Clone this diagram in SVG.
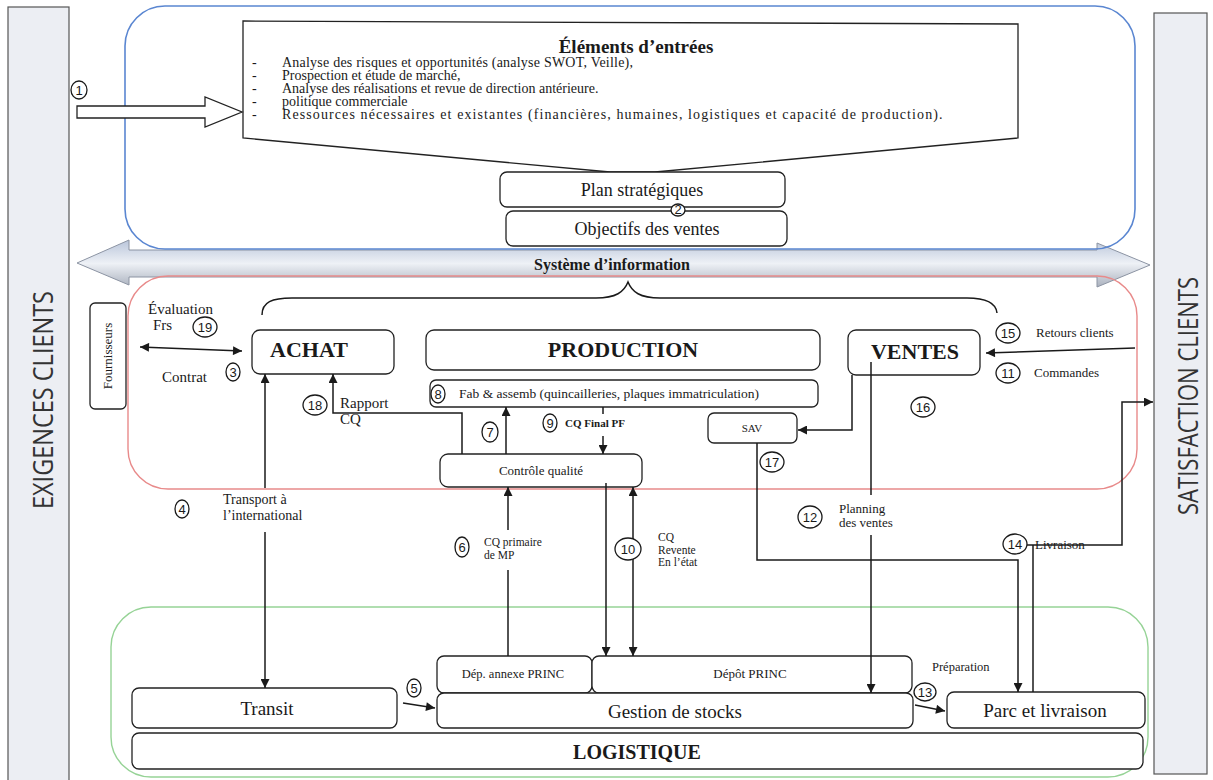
<svg xmlns="http://www.w3.org/2000/svg" width="1213" height="780" viewBox="0 0 1213 780">
<style>
.serif{font-family:"Liberation Serif","Times New Roman",serif;fill:#1a1a1a}
.sans{font-family:"Liberation Sans",Arial,sans-serif;fill:#1a1a1a}
.side{font-family:"Open Sans","Liberation Sans",sans-serif;fill:#333}
.box{fill:#fff;stroke:#222;stroke-width:1.3}
.panel{fill:#eceef3;stroke:#555;stroke-width:1.2}
.ln{fill:none;stroke:#1a1a1a;stroke-width:1.5}
.num ellipse{fill:#fff;stroke:#1a1a1a;stroke-width:1.3}
.num text{font-family:"Liberation Sans",Arial,sans-serif;font-size:13px;text-anchor:middle;fill:#1a1a1a}
.b{font-weight:bold}
.mid{text-anchor:middle}
</style>
<defs>
<marker id="ah" viewBox="0 0 10 10" refX="10" refY="5" markerWidth="10" markerHeight="9" markerUnits="userSpaceOnUse" orient="auto-start-reverse"><path d="M0,0 L10,5 L0,10 z" fill="#1a1a1a"/></marker>
<linearGradient id="sig" x1="0" y1="0" x2="0" y2="1">
<stop offset="0" stop-color="#b9c5da"/>
<stop offset="0.5" stop-color="#eef1f6"/>
<stop offset="1" stop-color="#aab1be"/>
</linearGradient>
</defs>
<rect width="1213" height="780" fill="#fff"/>

<g id="exigences-clients">
<rect class="panel" x="8" y="7" width="61" height="780"/>
<text class="side" transform="translate(53,400) rotate(-90)" font-size="28" text-anchor="middle" textLength="218" lengthAdjust="spacingAndGlyphs">EXIGENCES CLIENTS</text>
</g>
<g id="satisfaction-clients">
<rect class="panel" x="1154" y="13" width="53" height="761"/>
<text class="side" transform="translate(1198,396) rotate(-90)" font-size="28" text-anchor="middle" textLength="238" lengthAdjust="spacingAndGlyphs">SATISFACTION CLIENTS</text>
</g>

<g id="systeme-information">
<polygon points="77,263 129,240 129,250 1097,250 1097,243 1150,265 1097,287 1097,277 129,277 129,285" fill="url(#sig)" stroke="#8c94a3" stroke-width="1"/>
<text class="serif b mid" x="612" y="270" font-size="16">Système d’information</text>
</g>

<g id="zone-strategie">
<rect x="125" y="6" width="1010" height="243" rx="40" fill="none" stroke="#5a86d1" stroke-width="1.6"/>
</g>
<g id="zone-processus">
<rect x="128" y="276" width="1009" height="213" rx="40" fill="none" stroke="#e88a8a" stroke-width="1.4"/>
</g>
<g id="zone-logistique">
<rect x="111" y="607" width="1037" height="170" rx="40" fill="none" stroke="#96d396" stroke-width="1.4"/>
</g>

<g id="elements-entrees">
<polygon class="box" points="243,21 1018,24 1018,138 655,172 610,172 243,138"/>
<text class="serif b mid" x="636" y="53" font-size="19">Éléments d’entrées</text>
<text class="serif" font-size="14"><tspan x="252" y="67">-</tspan><tspan x="282" y="67" textLength="351">Analyse des risques et opportunités (analyse SWOT, Veille),</tspan><tspan x="252" y="80">-</tspan><tspan x="282" y="80">Prospection et étude de marché,</tspan><tspan x="252" y="93">-</tspan><tspan x="282" y="93">Analyse des réalisations et revue de direction antérieure.</tspan><tspan x="252" y="106">-</tspan><tspan x="282" y="106">politique commerciale</tspan><tspan x="252" y="119">-</tspan><tspan x="282" y="119" letter-spacing="1.1">Ressources nécessaires et existantes (financières, humaines, logistiques et capacité de production).</tspan></text>
</g>

<g id="plan-strategiques">
<rect class="box" x="500" y="172" width="285" height="35" rx="7"/>
<text class="serif mid" x="642" y="196" font-size="18">Plan stratégiques</text>
</g>
<g id="objectifs-ventes">
<rect class="box" x="506" y="211" width="281" height="35" rx="7"/>
<text class="serif mid" x="647" y="235" font-size="18">Objectifs des ventes</text>
</g>

<g id="fournisseurs">
<rect class="box" x="90" y="303" width="36" height="106" rx="5"/>
<text class="serif mid" transform="translate(112,356) rotate(-90)" font-size="13">Fournisseurs</text>
</g>
<g id="achat">
<rect class="box" x="252" y="330" width="142" height="44" rx="8"/>
<text class="serif b" x="270" y="357" font-size="22">ACHAT</text>
</g>
<g id="production">
<rect class="box" x="426" y="330" width="394" height="40" rx="8"/>
<text class="serif b mid" x="623" y="357" font-size="22">PRODUCTION</text>
</g>
<g id="ventes">
<rect class="box" x="848" y="330" width="132" height="45" rx="8"/>
<text class="serif b mid" x="915" y="359" font-size="22">VENTES</text>
</g>
<g id="fab-assemb">
<rect class="box" x="430" y="380" width="388" height="27" rx="6"/>
<text class="serif" x="459" y="398" font-size="13.5">Fab &amp; assemb (quincailleries, plaques immatriculation)</text>
</g>
<g id="sav">
<rect class="box" x="708" y="413" width="89" height="30" rx="6"/>
<text class="serif mid" x="752" y="432" font-size="11">SAV</text>
</g>
<g id="controle-qualite">
<rect class="box" x="440" y="454" width="202" height="33" rx="8"/>
<text class="serif mid" x="541" y="475" font-size="13">Contrôle qualité</text>
</g>

<g id="depot-annexe">
<rect class="box" x="437" y="656" width="155" height="37" rx="7"/>
<text class="serif mid" x="513" y="678" font-size="12.5">Dép. annexe PRINC</text>
</g>
<g id="depot-princ">
<rect class="box" x="592" y="656" width="320" height="37" rx="7"/>
<text class="serif mid" x="750" y="678" font-size="13">Dépôt PRINC</text>
</g>
<g id="transit">
<rect class="box" x="132" y="688" width="265" height="40" rx="7"/>
<text class="serif mid" x="267" y="715" font-size="19">Transit</text>
</g>
<g id="gestion-stocks">
<rect class="box" x="437" y="693" width="476" height="35" rx="7"/>
<text class="serif mid" x="675" y="718" font-size="19">Gestion de stocks</text>
</g>
<g id="parc-livraison">
<rect class="box" x="947" y="692" width="198" height="36" rx="7"/>
<text class="serif mid" x="1045" y="717" font-size="19">Parc et livraison</text>
</g>
<g id="logistique">
<rect class="box" x="132" y="733" width="1011" height="36" rx="7"/>
<text class="serif b mid" x="637" y="759" font-size="20">LOGISTIQUE</text>
</g>

<g id="connectors">
<polygon points="77,106 205,106 205,97 242,112 205,127 205,118 77,118" fill="#fff" stroke="#222" stroke-width="1.3"/>
<path class="ln" d="M262,315 C262,302 272,298 292,298 L596,298 C616,298 624,292 628,282 C632,292 640,298 660,298 L967,298 C987,298 996,303 997,313"/>
<path class="ln" d="M140,347 L242,351" marker-start="url(#ah)" marker-end="url(#ah)"/>
<path class="ln" d="M265,488 L265,374" marker-end="url(#ah)"/>
<path class="ln" d="M265,532 L265,688" marker-end="url(#ah)"/>
<path class="ln" d="M462,454 L462,413 L333,413 L333,374" marker-end="url(#ah)"/>
<path class="ln" d="M506,454 L506,407" marker-end="url(#ah)"/>
<path class="ln" d="M603,407 L603,414"/>
<path class="ln" d="M603,436 L603,454" marker-end="url(#ah)"/>
<path class="ln" d="M508,656 L508,570"/>
<path class="ln" d="M508,530 L508,487" marker-end="url(#ah)"/>
<path class="ln" d="M606,483 L606,656" marker-end="url(#ah)"/>
<path class="ln" d="M633,487 L633,656" marker-start="url(#ah)" marker-end="url(#ah)"/>
<path class="ln" d="M852,375 L852,430 L798,430" marker-end="url(#ah)"/>
<path class="ln" d="M757,443 L757,560 L1018,560 L1018,692" marker-end="url(#ah)"/>
<path class="ln" d="M871,362 L871,495"/>
<path class="ln" d="M871,535 L871,693" marker-end="url(#ah)"/>
<path class="ln" d="M1135,348 L986,353" marker-end="url(#ah)"/>
<path class="ln" d="M1033,692 L1033,545"/>
<path class="ln" d="M1027,545 L1122,545 L1122,402 L1153,402" marker-end="url(#ah)"/>
<path class="ln" d="M403,703 L435,708" marker-end="url(#ah)"/>
<path class="ln" d="M915,705 L945,711" marker-end="url(#ah)"/>
</g>

<g id="labels">
<text class="serif" font-size="15"><tspan x="148" y="314">Évaluation</tspan><tspan x="153" y="330">Frs</tspan></text>
<text class="serif" font-size="15" x="162" y="382">Contrat</text>
<text class="serif" font-size="15"><tspan x="340" y="408">Rapport</tspan><tspan x="340" y="424">CQ</tspan></text>
<text class="serif" font-size="14"><tspan x="223" y="504">Transport à</tspan><tspan x="223" y="520">l’international</tspan></text>
<text class="serif" font-size="13" x="1036" y="337">Retours clients</text>
<text class="serif" font-size="13" x="1034" y="377">Commandes</text>
<text class="serif" font-size="13"><tspan x="839" y="513">Planning</tspan><tspan x="839" y="527">des ventes</tspan></text>
<text class="serif" font-size="13" x="1035" y="549">Livraison</text>
<text class="serif" font-size="11.5"><tspan x="484" y="546">CQ primaire</tspan><tspan x="484" y="559">de MP</tspan></text>
<text class="serif" font-size="11.5"><tspan x="658" y="541">CQ</tspan><tspan x="658" y="554">Revente</tspan><tspan x="658" y="566">En l’état</tspan></text>
<text class="serif b" font-size="11" x="565" y="427">CQ Final PF</text>
<text class="serif" font-size="12.5" x="932" y="671">Préparation</text>
<g class="num">
<ellipse cx="79" cy="90" rx="8" ry="9"/><text x="79" y="95">1</text>
<ellipse cx="678" cy="210" rx="7" ry="6"/><text x="678" y="214" font-size="11">2</text>
<ellipse cx="233" cy="372" rx="7" ry="9"/><text x="233" y="377">3</text>
<ellipse cx="182" cy="509" rx="7" ry="9"/><text x="182" y="514">4</text>
<ellipse cx="414" cy="688" rx="7" ry="9"/><text x="414" y="693">5</text>
<ellipse cx="462" cy="547" rx="7" ry="10"/><text x="462" y="552">6</text>
<ellipse cx="490" cy="432" rx="8" ry="10"/><text x="490" y="437">7</text>
<ellipse cx="438" cy="394" rx="7" ry="9"/><text x="438" y="399">8</text>
<ellipse cx="550" cy="423" rx="7" ry="9"/><text x="550" y="428">9</text>
<ellipse cx="628" cy="549" rx="13" ry="11"/><text x="628" y="554">10</text>
<ellipse cx="1008" cy="373" rx="12" ry="10"/><text x="1008" y="378">11</text>
<ellipse cx="810" cy="517" rx="12" ry="11"/><text x="810" y="522">12</text>
<ellipse cx="925" cy="692" rx="11" ry="9"/><text x="925" y="697">13</text>
<ellipse cx="1015" cy="544" rx="12" ry="10"/><text x="1015" y="549">14</text>
<ellipse cx="1008" cy="333" rx="12" ry="10"/><text x="1008" y="338">15</text>
<ellipse cx="923" cy="407" rx="12" ry="10"/><text x="923" y="412">16</text>
<ellipse cx="772" cy="462" rx="12" ry="10"/><text x="772" y="467">17</text>
<ellipse cx="315" cy="405" rx="12" ry="10"/><text x="315" y="410">18</text>
<ellipse cx="205" cy="327" rx="12" ry="10"/><text x="205" y="332">19</text>
</g>
</g>
</svg>
